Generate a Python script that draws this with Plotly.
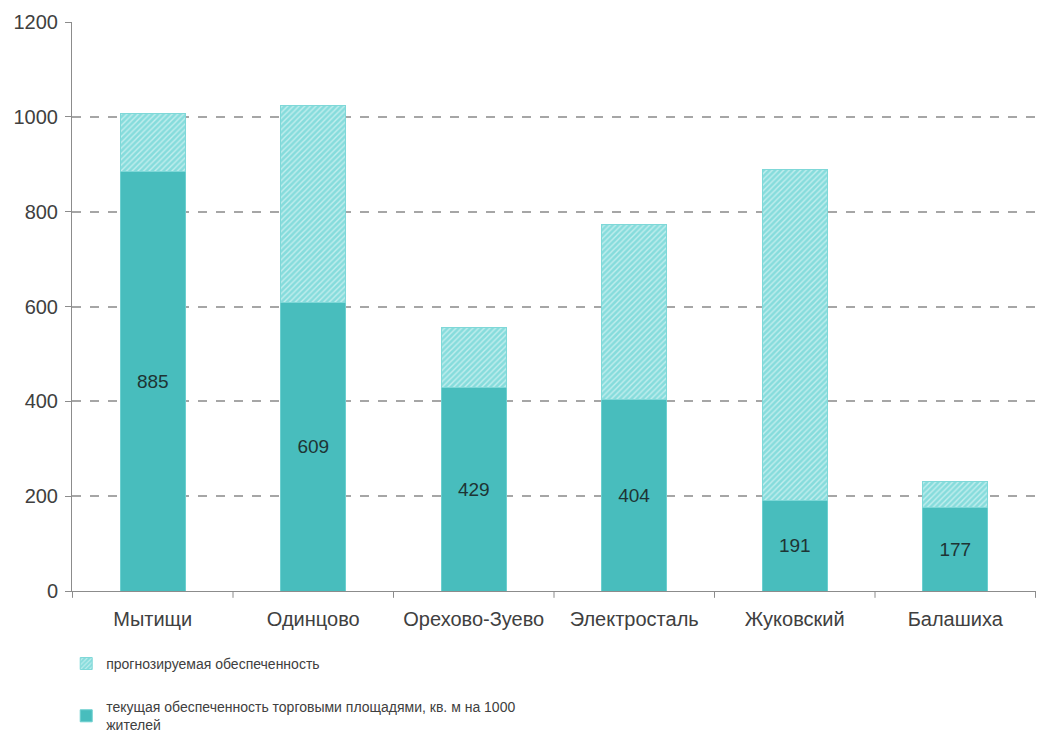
import plotly.graph_objects as go

cities = ["Мытищи", "Одинцово", "Орехово-Зуево", "Электросталь", "Жуковский", "Балашиха"]
current = [885, 609, 429, 404, 191, 177]
forecast_add = [123, 414, 126, 370, 697, 53]
y_ticks = [0, 200, 400, 600, 800, 1000, 1200]

name_current = "текущая обеспеченность торговыми площадями, кв. м на 1000<br>жителей"
name_forecast = "прогнозируемая обеспеченность"

teal = "#48BDBD"
hatch_bg = "#86DCDC"

fig = go.Figure()
fig.add_trace(go.Bar(
    x=cities, y=current, name=name_current, legendgroup="b", legendrank=2,
    marker=dict(color=teal, line=dict(color="#6ccfcf", width=1)),
    text=[str(v) for v in current], textposition="inside", insidetextanchor="middle",
    textfont=dict(size=19, color="#1e3434", family="Liberation Sans, Arial, sans-serif"),
    hoverinfo="x+y",
))
fig.add_trace(go.Bar(
    x=cities, y=forecast_add, name=name_forecast, legendgroup="a", legendrank=1,
    marker=dict(color=hatch_bg, line=dict(color="#7fd8d8", width=1),
                pattern=dict(shape="/", fgcolor="#ffffff", bgcolor=hatch_bg,
                             size=4, solidity=0.35, fillmode="overlay")),
    hoverinfo="x+y",
))

fig.update_layout(
    barmode="stack",
    bargap=0.595,
    width=1054, height=737,
    margin=dict(l=72, r=18, t=22, b=146, autoexpand=False),
    plot_bgcolor="white", paper_bgcolor="white",
    font=dict(family="Liberation Sans, Arial, sans-serif", color="#404040"),
    showlegend=True,
    legend=dict(
        orientation="v", x=-0.006, xanchor="left", y=-0.1, yanchor="top",
        traceorder="grouped", tracegroupgap=22,
        font=dict(size=14, color="#404040", family="Liberation Sans, Arial, sans-serif"),
        itemwidth=30, bgcolor="rgba(0,0,0,0)",
    ),
    xaxis=dict(
        showline=True, linecolor="#8c8c8c", linewidth=1,
        ticks="", tickfont=dict(size=20, color="#404040"),
        ticklabelstandoff=10,
        showgrid=False,
    ),
    yaxis=dict(
        range=[0, 1200], tickvals=y_ticks, ticktext=[str(v) for v in y_ticks],
        showline=True, linecolor="#8c8c8c", linewidth=1,
        ticks="outside", ticklen=6, tickcolor="#8c8c8c",
        tickfont=dict(size=20, color="#404040"),
        ticklabelstandoff=3,
        showgrid=True, gridcolor="#a6a6a6", gridwidth=1.5, griddash="dash",
        zeroline=False,
    ),
)

# category separator ticks on the x axis
n = len(cities)
for i in range(n + 1):
    fig.add_shape(type="line", xref="x", yref="paper",
                  x0=i - 0.5, x1=i - 0.5, y0=0, y1=-0.012,
                  line=dict(color="#8c8c8c", width=1))

fig.write_html("out.html")
